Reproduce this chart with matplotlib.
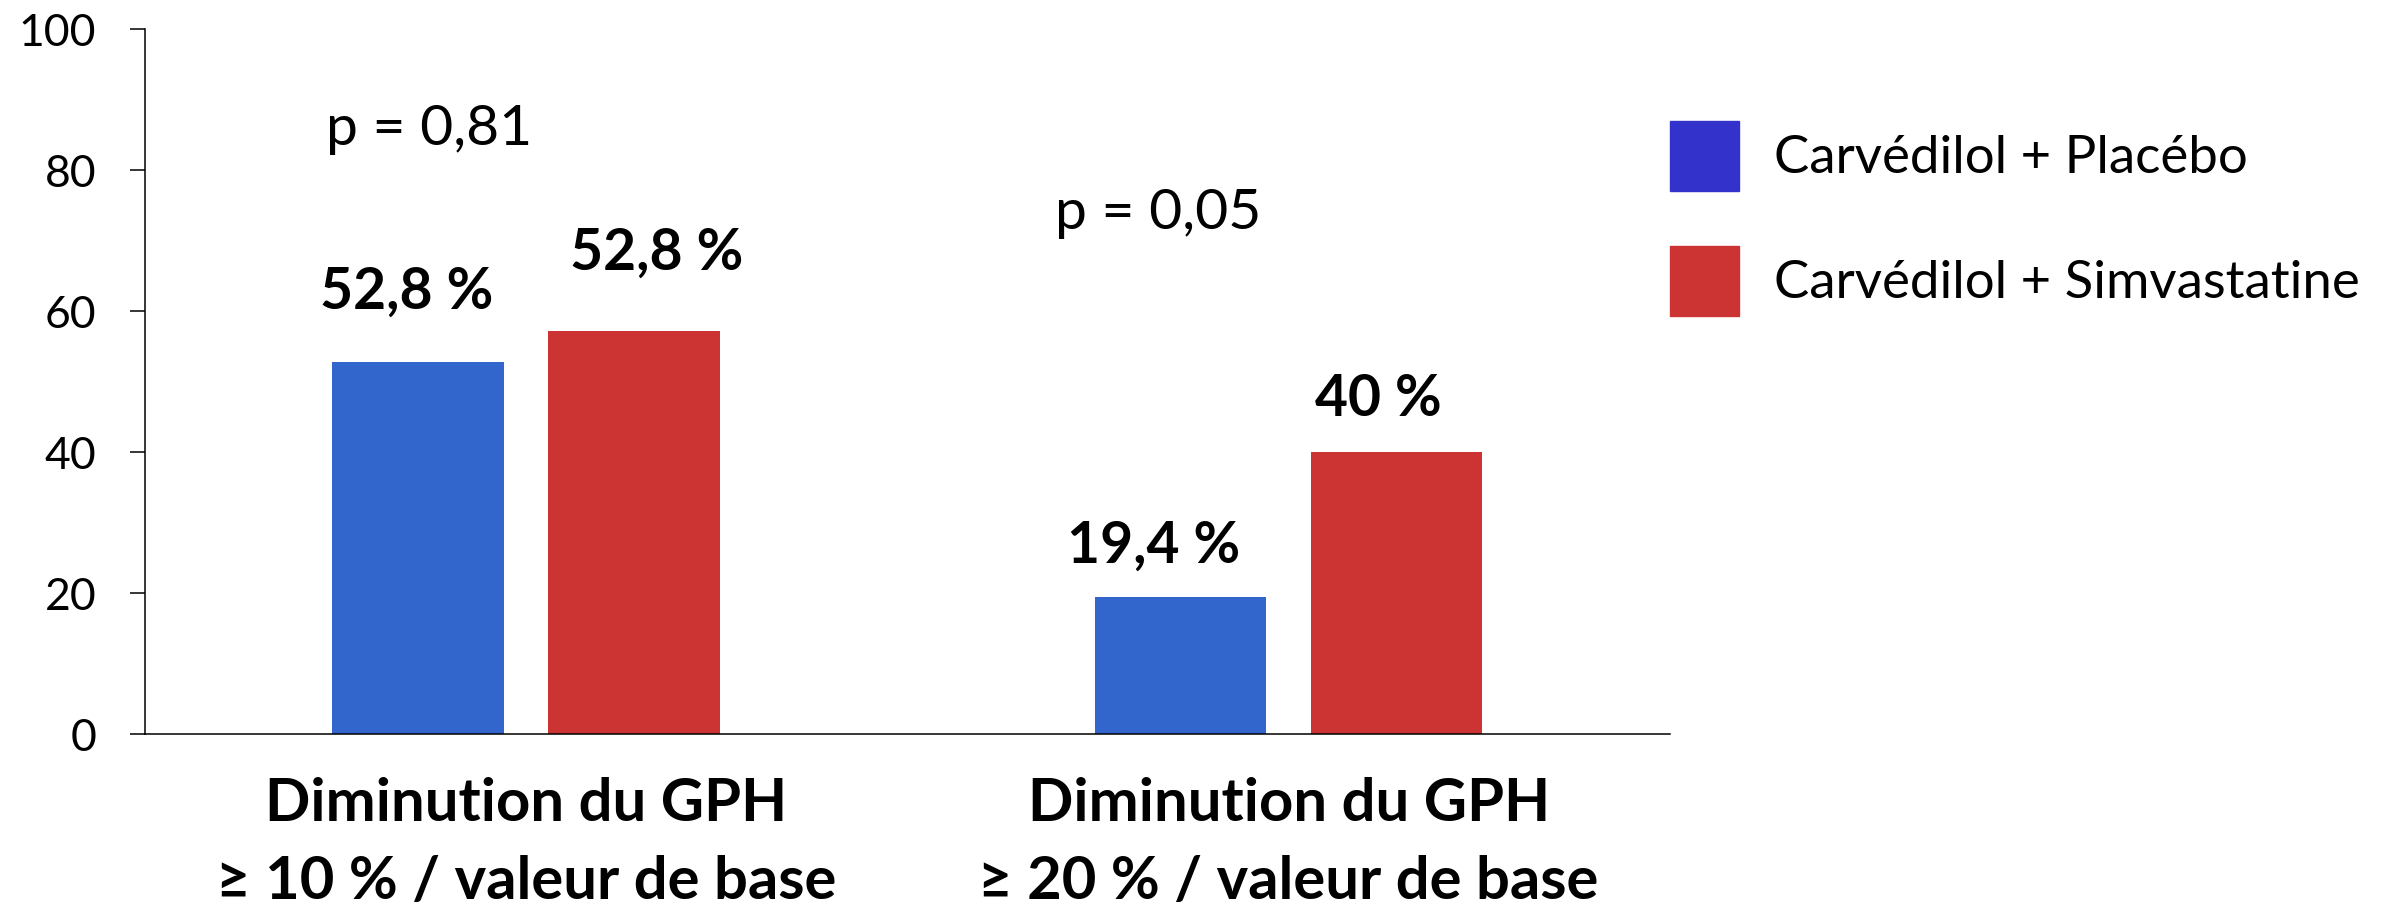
import numpy as np
import matplotlib
matplotlib.use("Agg")
import matplotlib.pyplot as plt
from matplotlib.patches import Patch

plt.rcParams["font.family"] = ["Lato", "DejaVu Sans"]

categories = ["Diminution du GPH\n≥ 10 % / valeur de base",
              "Diminution du GPH\n≥ 20 % / valeur de base"]
series = ["Carvédilol + Placébo", "Carvédilol + Simvastatine"]
placebo = [52.8, 19.5]
simva = [57.1, 40.0]
placebo_labels = ["52,8 %", "19,4 %"]
simva_labels = ["52,8 %", "40 %"]
p_values = ["p = 0,81", "p = 0,05"]

bar_blue = "#3366CC"
bar_red = "#CC3333"
leg_blue = "#3333CC"
leg_red = "#CC3333"

fig = plt.figure(figsize=(23.92, 9.07), dpi=100)
ax = fig.add_axes([0.0606, 0.1907, 0.6375, 0.7773])

x = np.arange(len(categories))
w = 0.225
off = 0.1417
ax.bar(x - off, placebo, w, color=bar_blue)
ax.bar(x + off, simva, w, color=bar_red)

# value labels above bars
lab_dx_p = [-0.015, -0.035]
lab_dx_s = [0.030, -0.024]
lab_gap_p = [9.8, 7.1]
lab_gap_s = [11.1, 7.4]
for i in range(len(categories)):
    ax.text(x[i] - off + lab_dx_p[i], placebo[i] + lab_gap_p[i], placebo_labels[i],
            ha="center", va="center", fontsize=41, fontweight="bold")
    ax.text(x[i] + off + lab_dx_s[i], simva[i] + lab_gap_s[i], simva_labels[i],
            ha="center", va="center", fontsize=41, fontweight="bold")

p_x = [-0.128, 0.829]
p_y = [85.7, 73.8]
for i in range(len(p_values)):
    ax.text(p_x[i], p_y[i], p_values[i], ha="center", va="center", fontsize=41)

ax.set_xlim(-0.5, 1.5)
ax.set_ylim(0, 100)
ax.set_yticks(np.arange(0, 101, 20))
ax.set_xticks(x)
ax.set_xticklabels(categories, fontsize=43, fontweight="bold", linespacing=1.55)
ax.tick_params(axis="x", length=0, pad=31)
ax.tick_params(axis="y", length=11, width=1.1, pad=24, labelsize=32)

for s in ["top", "right"]:
    ax.spines[s].set_visible(False)
ax.spines["left"].set_linewidth(1.1)
ax.spines["bottom"].set_linewidth(1.1)

handles = [Patch(color=leg_blue), Patch(color=leg_red)]
fig.legend(handles, series, loc="upper left", bbox_to_anchor=(0.698, 0.867),
           frameon=False, fontsize=38, borderpad=0, borderaxespad=0,
           handlelength=1.31, handleheight=1.66, handletextpad=0.66,
           labelspacing=1.05)

fig.savefig("out.png", dpi=100)
